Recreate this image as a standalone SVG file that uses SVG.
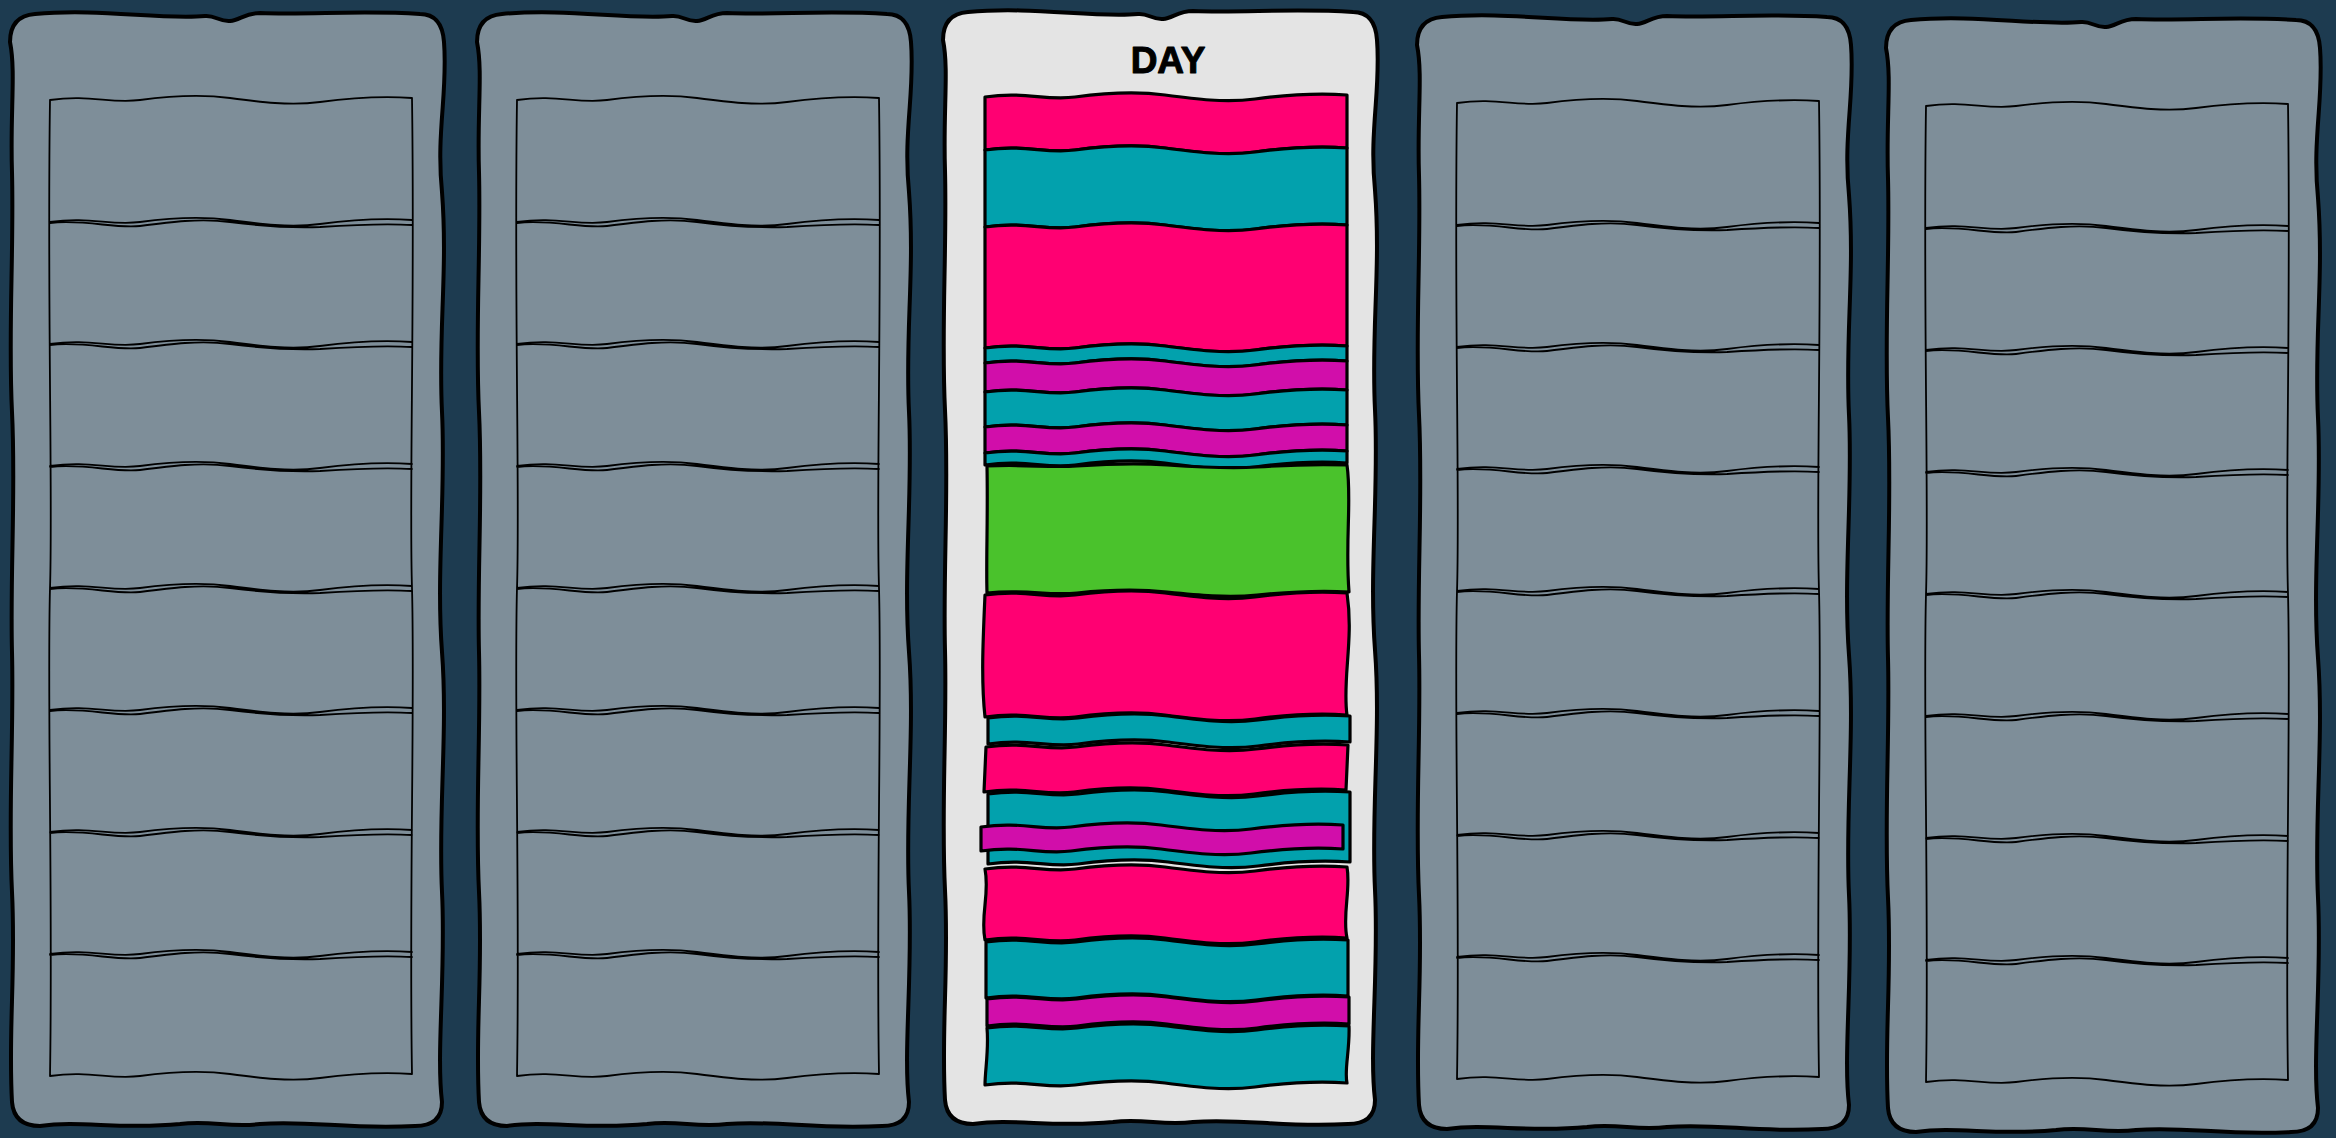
<svg xmlns="http://www.w3.org/2000/svg" width="2336" height="1138" viewBox="0 0 2336 1138">
<style>
.panel{stroke:#000;stroke-width:4;stroke-linejoin:round}
.gray{fill:#7e8e99}
.light{fill:#e4e4e4}
.grid{fill:none;stroke:#000;stroke-width:1.8;stroke-linecap:round}
.blk{stroke:#000;stroke-width:3.2;stroke-linejoin:round}
.pink{fill:#ff0072}
.teal{fill:#02a1ad}
.mag{fill:#d10eaa}
.green{fill:#4ac22c}
.title{font-family:"Liberation Sans",Arial,sans-serif;font-weight:bold;font-size:37px;fill:#000;stroke:#000;stroke-width:1;stroke-linejoin:round}
</style>
<defs>
<path id="panelShape" d="M 25 2 C 90 -4 150 8 195 4 C 205 3 210 10 220 9 C 230 8 235 1 250 1 C 300 3 350 -2 410 2 Q 432 2 434 30 C 438 80 426 120 432 180 C 438 260 428 320 432 400 C 436 480 426 560 432 640 C 438 720 428 800 432 880 C 436 960 426 1040 432 1090 Q 432 1114 405 1114 C 340 1118 300 1108 250 1112 C 220 1116 200 1108 170 1112 C 110 1118 70 1108 30 1114 Q 4 1114 2 1090 C -2 1020 6 960 2 880 C -2 800 4 720 2 640 C 0 560 6 480 2 400 C -2 320 4 240 2 160 C 0 100 6 60 0 30 Q 0 4 25 2 Z"/>
<path id="gridShape" d="M0 0 c 40 -6 60 4 90 0 c 30 -4 60 -6 90 -2 c 30 4 60 8 90 4 c 30 -4 62 -6 92 -4
M0 122 c 40 -6 60 4 90 0 c 30 -4 60 -6 90 -2 c 30 4 60 8 90 4 c 30 -4 62 -6 92 -4
M0 123 c 35 -4 65 6 90 3 c 30 -4 60 -8 90 -4 c 30 4 60 6 90 5 c 30 -2 62 -4 92 -2
M0 244 c 40 -6 60 4 90 0 c 30 -4 60 -6 90 -2 c 30 4 60 8 90 4 c 30 -4 62 -6 92 -4
M0 245 c 35 -4 65 6 90 3 c 30 -4 60 -8 90 -4 c 30 4 60 6 90 5 c 30 -2 62 -4 92 -2
M0 366 c 40 -6 60 4 90 0 c 30 -4 60 -6 90 -2 c 30 4 60 8 90 4 c 30 -4 62 -6 92 -4
M0 367 c 35 -4 65 6 90 3 c 30 -4 60 -8 90 -4 c 30 4 60 6 90 5 c 30 -2 62 -4 92 -2
M0 488 c 40 -6 60 4 90 0 c 30 -4 60 -6 90 -2 c 30 4 60 8 90 4 c 30 -4 62 -6 92 -4
M0 489 c 35 -4 65 6 90 3 c 30 -4 60 -8 90 -4 c 30 4 60 6 90 5 c 30 -2 62 -4 92 -2
M0 610 c 40 -6 60 4 90 0 c 30 -4 60 -6 90 -2 c 30 4 60 8 90 4 c 30 -4 62 -6 92 -4
M0 611 c 35 -4 65 6 90 3 c 30 -4 60 -8 90 -4 c 30 4 60 6 90 5 c 30 -2 62 -4 92 -2
M0 732 c 40 -6 60 4 90 0 c 30 -4 60 -6 90 -2 c 30 4 60 8 90 4 c 30 -4 62 -6 92 -4
M0 733 c 35 -4 65 6 90 3 c 30 -4 60 -8 90 -4 c 30 4 60 6 90 5 c 30 -2 62 -4 92 -2
M0 854 c 40 -6 60 4 90 0 c 30 -4 60 -6 90 -2 c 30 4 60 8 90 4 c 30 -4 62 -6 92 -4
M0 855 c 35 -4 65 6 90 3 c 30 -4 60 -8 90 -4 c 30 4 60 6 90 5 c 30 -2 62 -4 92 -2
M0 976 c 40 -6 60 4 90 0 c 30 -4 60 -6 90 -2 c 30 4 60 8 90 4 c 30 -4 62 -6 92 -4
M0 0 C -3 200 3 400 0 488 C -3 600 3 800 0 976
M362 -2 C 365 200 359 400 362 488 C 365 600 359 800 362 974"/>
</defs>
<rect width="2336" height="1138" fill="#1d3b50"/>

<g id="panel-1" transform="translate(10,12)">
<use href="#panelShape" class="panel gray"/>
<use href="#gridShape" class="grid" transform="translate(40,88)"/>
</g>
<g id="panel-2" transform="translate(477,12)">
<use href="#panelShape" class="panel gray"/>
<use href="#gridShape" class="grid" transform="translate(40,88)"/>
</g>
<g id="panel-4" transform="translate(1417,15)">
<use href="#panelShape" class="panel gray"/>
<use href="#gridShape" class="grid" transform="translate(40,88)"/>
</g>
<g id="panel-5" transform="translate(1886,18)">
<use href="#panelShape" class="panel gray"/>
<use href="#gridShape" class="grid" transform="translate(40,88)"/>
</g>

<g id="day-panel">
<use href="#panelShape" class="panel light" transform="translate(943,10)"/>
<text class="title" x="1168" y="73" text-anchor="middle">DAY</text>
</g>

<g id="day-blocks">
<path id="b1" class="blk pink" d="M985 97 c 40 -6 60 4 90 0 c 30 -4 60 -6 90 -2 c 30 4 60 8 90 4 c 30 -4 62 -6 92 -4 L1347 148 c -30 -2 -62 0 -92 4 c -30 4 -60 0 -90 -4 c -30 -4 -60 -2 -90 2 c -30 4 -50 -6 -90 0 Z"/>
<path id="b2" class="blk teal" d="M985 150 c 40 -6 60 4 90 0 c 30 -4 60 -6 90 -2 c 30 4 60 8 90 4 c 30 -4 62 -6 92 -4 L1347 225 c -30 -2 -62 0 -92 4 c -30 4 -60 0 -90 -4 c -30 -4 -60 -2 -90 2 c -30 4 -50 -6 -90 0 Z"/>
<path id="b3" class="blk pink" d="M985 227 c 40 -6 60 4 90 0 c 30 -4 60 -6 90 -2 c 30 4 60 8 90 4 c 30 -4 62 -6 92 -4 L1347 346 c -30 -2 -62 0 -92 4 c -30 4 -60 0 -90 -4 c -30 -4 -60 -2 -90 2 c -30 4 -50 -6 -90 0 Z"/>
<path id="b4" class="blk teal" d="M985 348 c 40 -6 60 4 90 0 c 30 -4 60 -6 90 -2 c 30 4 60 8 90 4 c 30 -4 62 -6 92 -4 L1347 361 c -30 -2 -62 0 -92 4 c -30 4 -60 0 -90 -4 c -30 -4 -60 -2 -90 2 c -30 4 -50 -6 -90 0 Z"/>
<path id="b5" class="blk mag" d="M985 363 c 40 -6 60 4 90 0 c 30 -4 60 -6 90 -2 c 30 4 60 8 90 4 c 30 -4 62 -6 92 -4 L1347 390 c -30 -2 -62 0 -92 4 c -30 4 -60 0 -90 -4 c -30 -4 -60 -2 -90 2 c -30 4 -50 -6 -90 0 Z"/>
<path id="b6" class="blk teal" d="M985 392 c 40 -6 60 4 90 0 c 30 -4 60 -6 90 -2 c 30 4 60 8 90 4 c 30 -4 62 -6 92 -4 L1347 425 c -30 -2 -62 0 -92 4 c -30 4 -60 0 -90 -4 c -30 -4 -60 -2 -90 2 c -30 4 -50 -6 -90 0 Z"/>
<path id="b7" class="blk mag" d="M985 427 c 40 -6 60 4 90 0 c 30 -4 60 -6 90 -2 c 30 4 60 8 90 4 c 30 -4 62 -6 92 -4 L1347 451 c -30 -2 -62 0 -92 4 c -30 4 -60 0 -90 -4 c -30 -4 -60 -2 -90 2 c -30 4 -50 -6 -90 0 Z"/>
<path id="b8" class="blk teal" d="M985 453 c 40 -6 60 4 90 0 c 30 -4 60 -6 90 -2 c 30 4 60 8 90 4 c 30 -4 62 -6 92 -4 L1347 463 c -30 -2 -62 0 -92 4 c -30 4 -60 0 -90 -4 c -30 -4 -60 -2 -90 2 c -30 4 -50 -6 -90 0 Z"/>
<path id="b9" class="blk green" d="M987 466 c 40 -2 60 2 90 0 c 30 -2 60 -3 90 -1 c 30 2 60 4 90 2 c 30 -2 60 -3 90 -2 C 1352 500 1345 540 1349 592 c -30 -2 -62 0 -92 3 c -30 3 -60 0 -90 -3 c -30 -3 -60 -2 -90 1 c -30 3 -50 -4 -90 0 C 986 560 988 520 987 466 Z"/>
<path id="b10" class="blk pink" d="M985 595 c 40 -6 60 4 90 0 c 30 -4 60 -6 90 -2 c 30 4 60 8 90 4 c 30 -4 62 -6 92 -4 C 1354 640 1342 680 1347 715 c -30 -2 -62 0 -92 4 c -30 4 -60 0 -90 -4 c -30 -4 -60 -2 -90 2 c -30 4 -50 -6 -90 0 C 981 680 983 640 985 595 Z"/>
<path id="b11" class="blk teal" d="M988 718 c 40 -6 60 4 90 0 c 30 -4 60 -6 90 -2 c 30 4 60 8 90 4 c 30 -4 62 -6 92 -4 L1350 742 c -30 -2 -62 0 -92 4 c -30 4 -60 0 -90 -4 c -30 -4 -60 -2 -90 2 c -30 4 -50 -6 -90 0 Z"/>
<path id="b12" class="blk pink" d="M986 747 c 40 -6 60 4 90 0 c 30 -4 60 -6 90 -2 c 30 4 60 8 90 4 c 30 -4 62 -6 92 -4 L1346 790 c -30 -2 -62 0 -92 4 c -30 4 -60 0 -90 -4 c -30 -4 -60 -2 -90 2 c -30 4 -50 -6 -90 0 Z"/>
<path id="b13" class="blk teal" d="M988 794 c 40 -6 60 4 90 0 c 30 -4 60 -6 90 -2 c 30 4 60 8 90 4 c 30 -4 62 -6 92 -4 L1350 862 c -30 -2 -62 0 -92 4 c -30 4 -60 0 -90 -4 c -30 -4 -60 -2 -90 2 c -30 4 -50 -6 -90 0 Z"/>
<path id="b14" class="blk mag" d="M981 827 c 40 -6 60 4 90 0 c 30 -4 60 -6 90 -2 c 30 4 60 8 90 4 c 30 -4 62 -6 92 -4 L1343 849 c -30 -2 -62 0 -92 4 c -30 4 -60 0 -90 -4 c -30 -4 -60 -2 -90 2 c -30 4 -50 -6 -90 0 Z"/>
<path id="b15" class="blk pink" d="M985 869 c 40 -6 60 4 90 0 c 30 -4 60 -6 90 -2 c 30 4 60 8 90 4 c 30 -4 62 -6 92 -4 C 1351 890 1342 915 1347 938 c -30 -2 -62 0 -92 4 c -30 4 -60 0 -90 -4 c -30 -4 -60 -2 -90 2 c -30 4 -50 -6 -90 0 C 980 915 990 895 985 869 Z"/>
<path id="b16" class="blk teal" d="M986 942 c 40 -6 60 4 90 0 c 30 -4 60 -6 90 -2 c 30 4 60 8 90 4 c 30 -4 62 -6 92 -4 L1348 996 c -30 -2 -62 0 -92 4 c -30 4 -60 0 -90 -4 c -30 -4 -60 -2 -90 2 c -30 4 -50 -6 -90 0 Z"/>
<path id="b17" class="blk mag" d="M987 999 c 40 -6 60 4 90 0 c 30 -4 60 -6 90 -2 c 30 4 60 8 90 4 c 30 -4 62 -6 92 -4 L1349 1024 c -30 -2 -62 0 -92 4 c -30 4 -60 0 -90 -4 c -30 -4 -60 -2 -90 2 c -30 4 -50 -6 -90 0 Z"/>
<path id="b18" class="blk teal" d="M987 1028 c 40 -6 60 4 90 0 c 30 -4 60 -6 90 -2 c 30 4 60 8 90 4 c 30 -4 62 -6 92 -4 C 1350 1050 1344 1070 1347 1083 c -30 -2 -62 0 -92 4 c -30 4 -60 0 -90 -4 c -30 -4 -60 -2 -90 2 c -30 4 -50 -6 -90 0 C 985 1070 989 1050 987 1028 Z"/>
</g>
<g id="connectors"/>
</svg>
